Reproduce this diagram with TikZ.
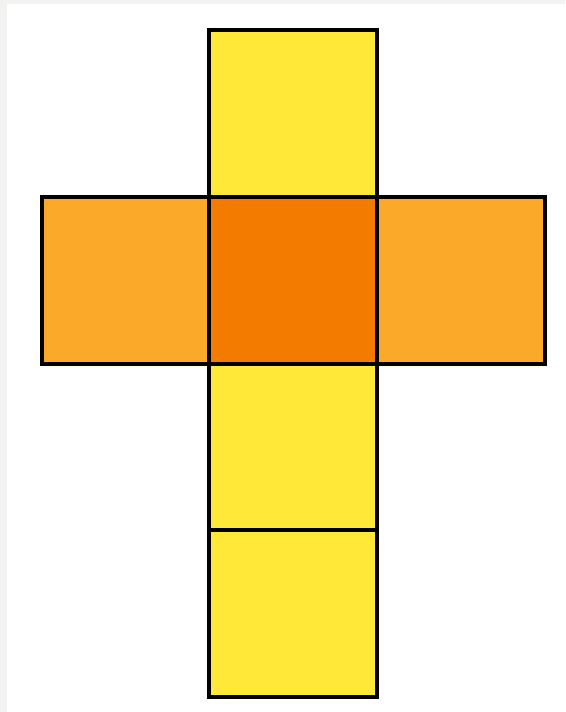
\documentclass[tikz,border=0pt]{standalone}
\definecolor{frame}{RGB}{242,242,240}
\definecolor{facey}{RGB}{255,232,55}
\definecolor{faceo}{RGB}{250,170,40}
\definecolor{facec}{RGB}{242,123,0}
\begin{document}
\begin{tikzpicture}[x=1pt,y=-1pt,
  face/.style={draw=black,line width=4.3pt,line join=miter}]
\useasboundingbox (0,0) rectangle (565,712);
\fill[frame] (0,0) rectangle (565,712);
\fill[white] (7,4) rectangle (565,712);
\draw[face,fill=facey] (209,30) rectangle (377,197);
\draw[face,fill=facey] (209,364) rectangle (377,530);
\draw[face,fill=facey] (209,530) rectangle (377,697);
\draw[face,fill=faceo] (42,197) rectangle (209,364);
\draw[face,fill=faceo] (377,197) rectangle (545,364);
\draw[face,fill=facec] (209,197) rectangle (377,364);
\end{tikzpicture}
\end{document}
